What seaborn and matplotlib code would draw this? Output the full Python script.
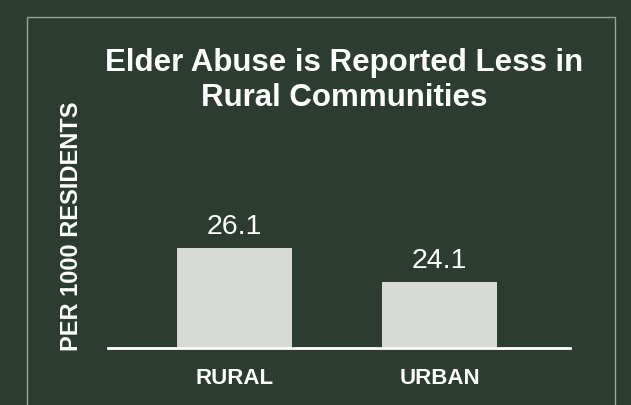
import pandas as pd
import matplotlib
matplotlib.use("Agg")
import matplotlib.pyplot as plt
import matplotlib.patches as mpatches
import seaborn as sns

# dati
categories = ["RURAL", "URBAN"]
values = [26.1, 24.1]
title_lines = ["Elder Abuse is Reported Less in", "Rural Communities"]
y_label = "PER 1000 RESIDENTS"

bg = "#2c3c31"
bar_color = "#d7dad7"

sns.set_style("white")
plt.rcParams['font.family'] = ['Liberation Sans', 'DejaVu Sans']

df = pd.DataFrame({"area": categories, "rate": values})

fig = plt.figure(figsize=(6.31, 4.06), dpi=100, facecolor=bg)
ax = fig.add_axes([0.171, 0.140, 0.732, 0.539])
ax.set_facecolor(bg)

sns.barplot(data=df, x="area", y="rate", color=bar_color, saturation=1,
            width=0.56, linewidth=0, ax=ax)

ax.set_ylim(20.22, 33.1)
ax.set_xlim(-0.616, 1.633)

for c in ax.containers:
    ax.bar_label(c, fmt="%.1f", padding=6.5, fontsize=20.5, color="white")

for s in ["top", "right", "left"]:
    ax.spines[s].set_visible(False)
ax.spines["bottom"].set_color("white")
ax.spines["bottom"].set_linewidth(2)
ax.set_yticks([])
ax.set_xlabel("")
ax.set_ylabel("")
ax.tick_params(axis="x", length=0, pad=13.5, colors="white")
for lbl in ax.get_xticklabels():
    lbl.set_fontweight("bold")
    lbl.set_fontsize(16)

# titolo su due righe
for line, ypx in zip(title_lines, [70.7, 106]):
    fig.text(0.546, 1 - ypx / 406, line, ha="center", va="baseline",
             fontsize=22.5, fontweight="bold", color="white")

fig.text(72 / 631, 1 - 226 / 406, y_label, rotation=90,
         ha="center", va="center", fontsize=17, fontweight="bold", color="white")

# cornice sottile
frame = mpatches.Rectangle((27 / 631, -0.05), (615 - 27) / 631, 1.05 - 18 / 406,
                           transform=fig.transFigure, fill=False,
                           edgecolor="#9aa39c", linewidth=1)
fig.patches.append(frame)

fig.savefig("out.png", dpi=100, facecolor=bg)
